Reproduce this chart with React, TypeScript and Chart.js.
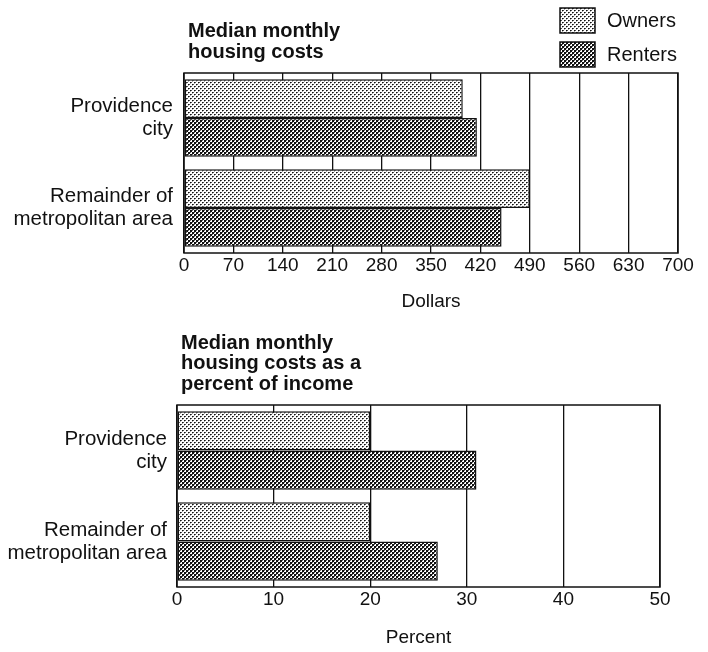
import React, { useEffect, useRef } from "react";
import { Chart, registerables } from "chart.js";
Chart.register(...registerables);

const categories = [["Providence", "city"], ["Remainder of", "metropolitan area"]];
const seriesNames = ["Owners", "Renters"];
const costOwners = [395, 490];
const costRenters = [415, 450];
const costTicks = [0, 70, 140, 210, 280, 350, 420, 490, 560, 630, 700];
const pctOwners = [20, 20];
const pctRenters = [31, 27];
const pctTicks = [0, 10, 20, 30, 40, 50];
const title1 = ["Median monthly", "housing costs"];
const title2 = ["Median monthly", "housing costs as a", "percent of income"];
const axisTitle1 = "Dollars";
const axisTitle2 = "Percent";

const FONT = "'Liberation Sans', Arial, Helvetica, sans-serif";
const INK = "#111";

function makePattern(kind: "light" | "dark"): CanvasPattern | string {
  const c = document.createElement("canvas");
  c.width = 4;
  c.height = 4;
  const g = c.getContext("2d");
  if (!g) return kind === "light" ? "#bbb" : "#555";
  g.fillStyle = "#fff";
  g.fillRect(0, 0, 4, 4);
  if (kind === "light") {
    g.fillStyle = "#111";
    g.fillRect(0, 0, 1, 1);
    g.fillRect(2, 2, 1, 1);
    g.fillStyle = "#555";
    g.fillRect(1, 0, 1, 1);
    g.fillRect(3, 2, 1, 1);
    g.fillStyle = "#aaa";
    g.fillRect(0, 1, 1, 1);
    g.fillRect(2, 3, 1, 1);
  } else {
    g.fillStyle = "#111";
    g.fillRect(0, 0, 2, 2);
    g.fillRect(2, 2, 2, 2);
    g.fillStyle = "#666";
    g.fillRect(2, 0, 1, 1);
    g.fillRect(0, 2, 1, 1);
  }
  const ctx = document.createElement("canvas").getContext("2d");
  return (ctx && ctx.createPattern(c, "repeat")) || (kind === "light" ? "#bbb" : "#555");
}

const framePlugin = {
  id: "frame",
  beforeDatasetsDraw(chart: any) {
    const { ctx, chartArea: a } = chart;
    ctx.save();
    ctx.strokeStyle = INK;
    ctx.lineWidth = 1.5;
    ctx.strokeRect(a.left, a.top, a.right - a.left, a.bottom - a.top);
    ctx.restore();
  },
};

function titlePlugin(lines: string[]) {
  return {
    id: "blockTitle",
    afterDraw(chart: any) {
      const { ctx, chartArea: a } = chart;
      ctx.save();
      ctx.fillStyle = INK;
      ctx.font = `bold 20px ${FONT}`;
      ctx.textAlign = "left";
      ctx.textBaseline = "middle";
      const n = lines.length;
      lines.forEach((t, i) => {
        ctx.fillText(t, a.left + 4, a.top - 21 - (n - 1 - i) * 20.5);
      });
      ctx.restore();
    },
  };
}

const legendPlugin = {
  id: "boxLegend",
  afterDraw(chart: any) {
    const { ctx, chartArea: a } = chart;
    ctx.save();
    chart.data.datasets.forEach((ds: any, i: number) => {
      const x = a.right - 118;
      const y = 8 + i * 34;
      ctx.fillStyle = ds.backgroundColor;
      ctx.fillRect(x, y, 35, 25);
      ctx.strokeStyle = INK;
      ctx.lineWidth = 1.5;
      ctx.strokeRect(x, y, 35, 25);
      ctx.fillStyle = INK;
      ctx.font = `20px ${FONT}`;
      ctx.textAlign = "left";
      ctx.textBaseline = "middle";
      ctx.fillText(ds.label, x + 47, y + 13);
    });
    ctx.restore();
  },
};

function buildConfig(opts: {
  owners: number[];
  renters: number[];
  ticks: number[];
  axisTitle: string;
  title: string[];
  yWidth: number;
  yPad: number;
  xHeight: number;
  pad: { top: number; bottom: number; right: number };
  legend: boolean;
  ownersFill: any;
  rentersFill: any;
}): any {
  const common = {
    borderColor: INK,
    borderWidth: 1.5,
    categoryPercentage: 0.86,
    barPercentage: 1.0,
    borderSkipped: false,
  };
  const plugins: any[] = [framePlugin, titlePlugin(opts.title)];
  if (opts.legend) plugins.push(legendPlugin);
  return {
    type: "bar",
    data: {
      labels: categories,
      datasets: [
        { label: seriesNames[0], data: opts.owners, backgroundColor: opts.ownersFill, ...common },
        { label: seriesNames[1], data: opts.renters, backgroundColor: opts.rentersFill, ...common },
      ],
    },
    options: {
      indexAxis: "y",
      animation: false,
      responsive: false,
      maintainAspectRatio: false,
      layout: { padding: { top: opts.pad.top, bottom: opts.pad.bottom, left: 0, right: opts.pad.right } },
      plugins: { legend: { display: false }, title: { display: false }, tooltip: { enabled: false } },
      scales: {
        x: {
          min: opts.ticks[0],
          max: opts.ticks[opts.ticks.length - 1],
          afterBuildTicks: (s: any) => {
            s.ticks = opts.ticks.map((v) => ({ value: v }));
          },
          grid: { color: INK, lineWidth: 1.3, drawTicks: false },
          border: { display: false },
          ticks: { color: INK, font: { size: 19, family: FONT }, padding: 1, maxRotation: 0, autoSkip: false },
          title: {
            display: true,
            text: opts.axisTitle,
            color: INK,
            font: { size: 19, family: FONT },
            padding: { top: 0, bottom: 0 },
          },
          afterFit: (s: any) => {
            s.height = opts.xHeight;
          },
        },
        y: {
          grid: { display: false, drawTicks: false },
          border: { display: false },
          ticks: { color: INK, font: { size: 20.5, family: FONT, lineHeight: 1.12 }, padding: opts.yPad },
          afterFit: (s: any) => {
            s.width = opts.yWidth;
          },
        },
      },
    },
    plugins,
  };
}

export default function App() {
  const ref1 = useRef<HTMLCanvasElement>(null);
  const ref2 = useRef<HTMLCanvasElement>(null);

  useEffect(() => {
    Chart.defaults.font.family = FONT;
    const ownersFill = makePattern("light");
    const rentersFill = makePattern("dark");
    const c1 = new Chart(
      ref1.current as HTMLCanvasElement,
      buildConfig({
        owners: costOwners,
        renters: costRenters,
        ticks: costTicks,
        axisTitle: axisTitle1,
        title: title1,
        yWidth: 184,
        yPad: 11,
        xHeight: 60,
        pad: { top: 73, bottom: 7, right: 30 },
        legend: true,
        ownersFill,
        rentersFill,
      })
    );
    const c2 = new Chart(
      ref2.current as HTMLCanvasElement,
      buildConfig({
        owners: pctOwners,
        renters: pctRenters,
        ticks: pctTicks,
        axisTitle: axisTitle2,
        title: title2,
        yWidth: 177,
        yPad: 10,
        xHeight: 62,
        pad: { top: 85, bottom: 3, right: 48 },
        legend: false,
        ownersFill,
        rentersFill,
      })
    );
    return () => {
      c1.destroy();
      c2.destroy();
    };
  }, []);

  return (
    <div style={{ position: "absolute", left: 0, top: 0, width: 708, height: 652, background: "#fff" }}>
      <canvas ref={ref1} width={708} height={320} style={{ position: "absolute", left: 0, top: 0, display: "block" }} />
      <canvas ref={ref2} width={708} height={332} style={{ position: "absolute", left: 0, top: 320, display: "block" }} />
    </div>
  );
}
